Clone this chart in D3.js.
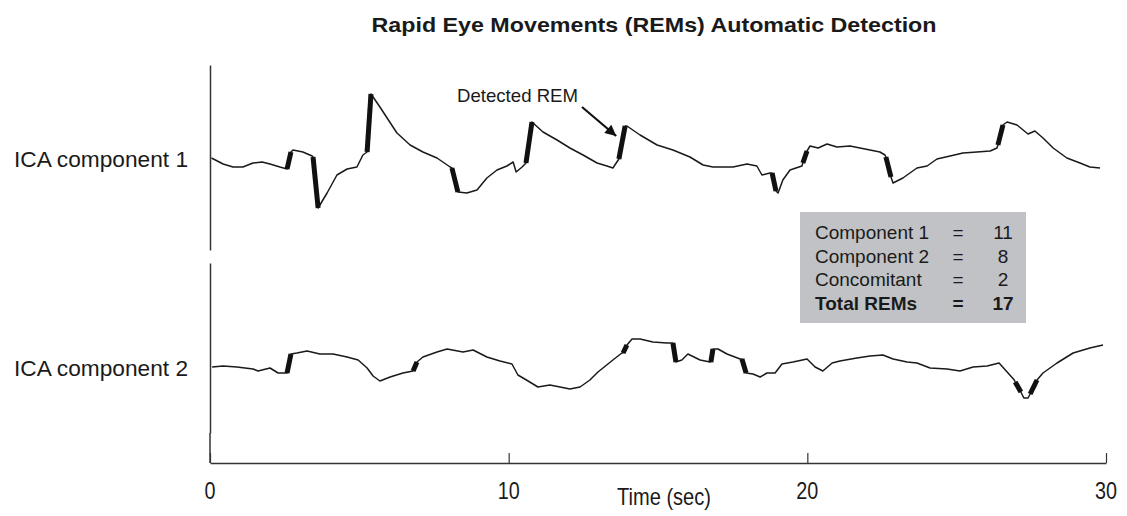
<!DOCTYPE html>
<html><head><meta charset="utf-8">
<script src="https://cdn.jsdelivr.net/npm/d3@7"></script>
<style>
body{margin:0;background:#fff;}
text{font-family:"Liberation Sans",Arial,Helvetica,sans-serif;fill:#1a1a1a;}
</style></head>
<body><svg id="c" width="1127" height="516"></svg>
<script>
// ---- data (time in s, amplitude in a.u.) ----
const t1 = [0.05,0.44,0.77,1.10,1.44,1.74,2.01,2.34,2.58,2.71,2.78,3.11,3.42,3.45,3.62,3.92,4.25,4.59,4.92,5.12,5.26,5.39,5.46,5.69,5.93,6.26,6.70,7.13,7.60,8.04,8.10,8.30,8.60,8.94,9.27,9.61,9.94,10.15,10.25,10.45,10.58,10.78,11.15,11.62,12.05,12.49,12.96,13.29,13.49,13.69,13.90,13.96,14.40,14.97,15.50,16.07,16.51,16.84,17.51,17.98,18.31,18.48,18.75,18.82,18.95,19.02,19.18,19.42,19.82,19.85,19.99,20.09,20.36,20.66,20.99,21.43,21.76,22.10,22.43,22.60,22.63,22.80,22.87,23.20,23.67,24.01,24.34,24.78,25.21,25.68,26.12,26.35,26.38,26.55,26.69,27.02,27.39,27.62,27.89,28.23,28.69,29.13,29.46,29.80];
const v1 = [2,-4,-7,-7,-3,-2,-4,-7,-9,8,10,8,4,3,-48,-33,-15,-9,-7,5,8,66,63,53,42,27,15,8,2,-7,-8,-32,-33,-30,-18,-10,-6,-2,-12,-7,-3,38,28,20,12,5,-3,-6,-8,1,34,34,25,15,10,3,-5,-7,-7,-4,-6,-15,-13,-13,-31,-33,-20,-10,-6,-3,9,14,12,16,13,14,12,10,8,5,3,-17,-23,-18,-8,-6,1,4,7,8,9,12,15,35,38,35,26,29,22,12,2,-3,-7,-8];
const t2 = [0.07,0.44,0.90,1.44,1.61,2.01,2.28,2.58,2.71,2.91,3.25,3.68,4.12,4.59,4.96,5.26,5.46,5.69,6.03,6.46,6.80,6.93,7.13,7.60,7.94,8.47,8.81,9.27,9.71,10.11,10.31,10.65,10.98,11.38,11.72,12.05,12.39,12.72,12.99,13.49,13.79,13.83,13.96,14.13,14.40,14.83,15.30,15.50,15.60,15.80,16.00,16.41,16.74,16.77,16.84,17.01,17.31,17.75,17.81,17.95,18.18,18.42,18.65,18.92,19.15,19.52,19.99,20.26,20.52,20.83,21.09,21.66,22.10,22.53,22.87,23.34,23.67,24.11,24.68,25.11,25.55,26.02,26.42,26.69,26.93,26.96,27.15,27.25,27.39,27.46,27.69,27.89,28.36,28.90,29.46,29.90];
const v2 = [0,1,0,-2,-4,-1,-6,-6,13,14,16,13,13,10,7,-1,-9,-14,-10,-6,-4,5,10,15,18,15,17,10,6,3,-8,-14,-20,-18,-20,-22,-20,-13,-5,7,14,14,22,28,28,25,24,24,5,7,13,7,5,5,18,18,13,8,8,-6,-7,-10,-6,-6,3,5,8,0,-4,4,6,9,11,12,8,5,4,-1,-2,-4,0,1,4,-5,-13,-15,-25,-31,-31,-27,-13,-6,4,14,19,22];
// detected REM intervals [start, end] in s
const rem1 = [[2.58,2.71],[3.45,3.62],[5.26,5.39],[8.10,8.30],[10.58,10.78],[13.69,13.90],[18.82,18.95],[19.85,19.99],[22.63,22.80],[26.38,26.55]];
const rem2 = [[2.58,2.71],[6.80,6.93],[13.83,13.96],[15.50,15.60],[16.77,16.84],[17.81,17.95],[26.96,27.15],[27.46,27.69]];
const xTicks = [0,10,20,30];
const componentLabels = ["ICA component 1","ICA component 2"];
const statLabels = ["Component 1","Component 2","Concomitant","Total REMs"];
const statValues = [11,8,2,17];
const titleText = "Rapid Eye Movements (REMs) Automatic Detection";

const svg = d3.select("#c");
const x = d3.scaleLinear().domain([0,30]).range([210,1106]);
const y1 = d3.scaleLinear().domain([-90,95]).range([250,65]);
const y2 = d3.scaleLinear().domain([-66,104]).range([433,263]);

svg.append("text").attr("x",654).attr("y",32).attr("text-anchor","middle")
  .attr("textLength",565).attr("lengthAdjust","spacingAndGlyphs")
  .style("font-weight","bold").style("font-size","21px").text(titleText);

function panel(t, v, y, rems, label){
  const pts = t.map((d,i)=>[d,v[i]]);
  const g = svg.append("g");
  g.append("g").attr("transform","translate(210,0)")
    .call(d3.axisLeft(y).tickValues([]).tickSizeOuter(0))
    .call(s=>s.select(".domain").attr("stroke","#333").attr("stroke-width",1.5));
  const line = d3.line().x(d=>x(d[0])).y(d=>y(d[1]));
  g.append("path").datum(pts).attr("d",line).attr("fill","none")
    .attr("stroke","#1a1a1a").attr("stroke-width",1.5).attr("stroke-linejoin","round");
  rems.forEach(r=>{
    const seg = pts.filter(p=>p[0]>=r[0]-1e-9 && p[0]<=r[1]+1e-9);
    g.append("path").datum(seg).attr("d",line).attr("fill","none")
      .attr("stroke","#111").attr("stroke-width",5).attr("stroke-linecap","butt");
  });
  g.append("text").attr("x",14).attr("y",y(pts[0][1])+9)
    .attr("textLength",174).attr("lengthAdjust","spacingAndGlyphs")
    .style("font-size","22px").text(label);
}
panel(t1,v1,y1,rem1,componentLabels[0]);
panel(t2,v2,y2,rem2,componentLabels[1]);

// x axis
const xa = svg.append("g").attr("transform","translate(0,463)")
  .call(d3.axisTop(x).tickValues(xTicks).tickSize(10).tickSizeOuter(0).tickFormat(""));
xa.select(".domain").attr("stroke","#333").attr("stroke-width",1.5);
xa.selectAll(".tick line").attr("stroke","#333").attr("stroke-width",1.2);
svg.append("line").attr("x1",210).attr("x2",210).attr("y1",433).attr("y2",463).attr("stroke","#333").attr("stroke-width",1.5);
svg.selectAll(".xl").data(xTicks).join("text").attr("class","xl")
  .attr("x",d=>x(d)).attr("y",499).attr("text-anchor","middle")
  .attr("textLength",d=>String(d).length*11).attr("lengthAdjust","spacingAndGlyphs")
  .style("font-size","23px").text(d=>d);
svg.append("text").attr("x",664).attr("y",505).attr("text-anchor","middle")
  .attr("textLength",94).attr("lengthAdjust","spacingAndGlyphs").style("font-size","24px").text("Time (sec)");

// annotation
svg.append("defs").append("marker").attr("id","ah").attr("viewBox","0 0 10 10").attr("refX",10).attr("refY",5)
  .attr("markerWidth",6).attr("markerHeight",5).attr("markerUnits","strokeWidth").attr("orient","auto")
  .append("path").attr("d","M0,0 L10,5 L0,10 z").attr("fill","#111");
svg.append("line").attr("x1",582).attr("y1",107).attr("x2",x(13.6)).attr("y2",y1(24)).attr("stroke","#111").attr("stroke-width",2.2).attr("marker-end","url(#ah)");
svg.append("text").attr("x",457).attr("y",102).attr("textLength",121).attr("lengthAdjust","spacingAndGlyphs")
  .style("font-size","18.5px").text("Detected REM");

// stats box
const bx = svg.append("g");
bx.append("rect").attr("x",800).attr("y",212).attr("width",226).attr("height",111).attr("fill","#c1c2c5");
statLabels.forEach((s,i)=>{
  const yy = 239 + i*23.5;
  const bold = i===3 ? "bold":"normal";
  bx.append("text").attr("x",815).attr("y",yy).style("font-size","19px").style("font-weight",bold).text(s);
  bx.append("text").attr("x",958).attr("y",yy).attr("text-anchor","middle").style("font-size","19px").style("font-weight",bold).text("=");
  bx.append("text").attr("x",1003).attr("y",yy).attr("text-anchor","middle").style("font-size","19px").style("font-weight",bold).text(statValues[i]);
});
</script></body></html>
